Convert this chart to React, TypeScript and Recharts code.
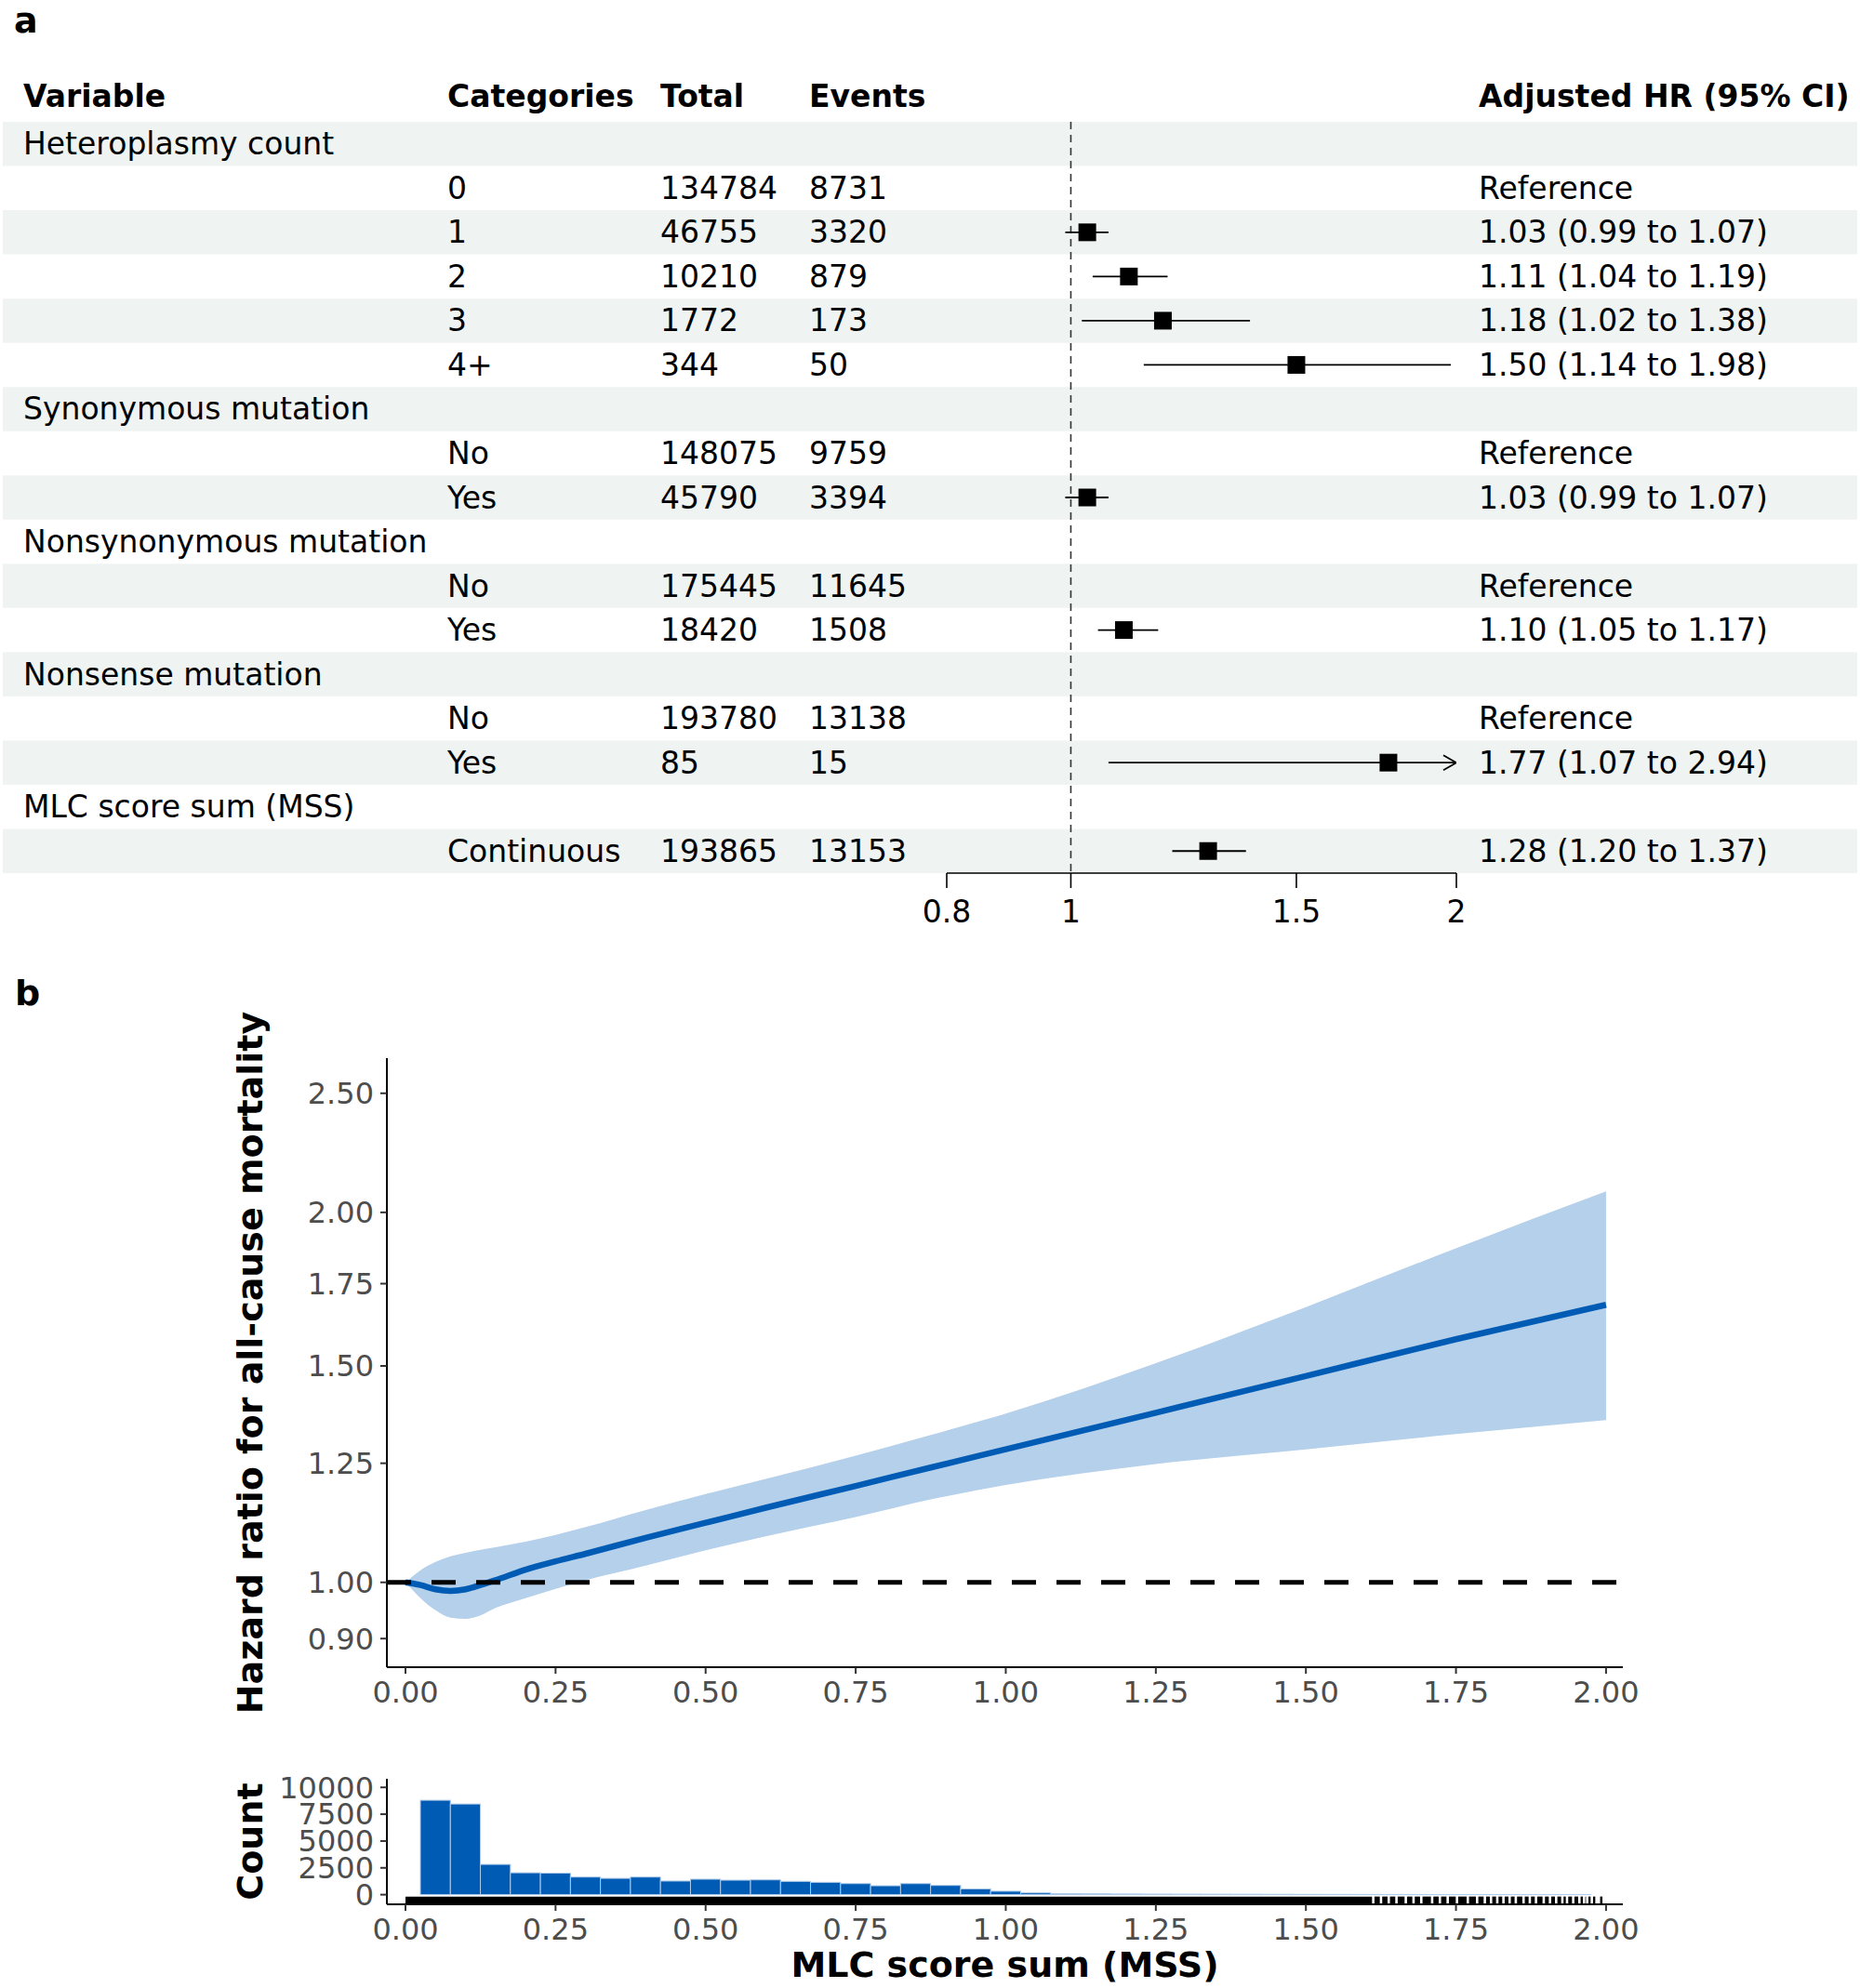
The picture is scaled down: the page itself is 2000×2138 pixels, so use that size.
import React from 'react';
import {
  ComposedChart,
  Scatter,
  Bar,
  Line,
  Area,
  XAxis,
  YAxis,
  ReferenceArea,
  ReferenceLine,
} from 'recharts';

const FONT = '"DejaVu Sans", sans-serif';

// ---------- panel a: forest table ----------
const variables = [
  'Heteroplasmy count',
  'Synonymous mutation',
  'Nonsynonymous mutation',
  'Nonsense mutation',
  'MLC score sum (MSS)',
];
const categories = ['0', '1', '2', '3', '4+', 'No', 'Yes', 'No', 'Yes', 'No', 'Yes', 'Continuous'];
const categoryGroup = [0, 0, 0, 0, 0, 1, 1, 2, 2, 3, 3, 4];
const totals = [134784, 46755, 10210, 1772, 344, 148075, 45790, 175445, 18420, 193780, 85, 193865];
const events = [8731, 3320, 879, 173, 50, 9759, 3394, 11645, 1508, 13138, 15, 13153];
const hrEst = [null, 1.03, 1.11, 1.18, 1.5, null, 1.03, null, 1.1, null, 1.77, 1.28];
const hrLow = [null, 0.99, 1.04, 1.02, 1.14, null, 0.99, null, 1.05, null, 1.07, 1.2];
const hrHigh = [null, 1.07, 1.19, 1.38, 1.98, null, 1.07, null, 1.17, null, 2.94, 1.37];
const headers = ['Variable', 'Categories', 'Total', 'Events', 'Adjusted HR (95% CI)'];
const forestTicks = [0.8, 1, 1.5, 2];

// ---------- panel b: spline curve ----------
const mssX = [0, 0.025, 0.05, 0.075, 0.1, 0.125, 0.15, 0.2, 0.25, 0.3, 0.4, 0.5, 0.6, 0.75, 0.875, 1.0, 1.25, 1.5, 1.75, 2.0];
const hrCurve = [1.0, 0.995, 0.987, 0.984, 0.987, 0.995, 1.004, 1.024, 1.04, 1.055, 1.087, 1.118, 1.15, 1.198, 1.24, 1.283, 1.374, 1.472, 1.577, 1.682];
const hrUpper = [1.0, 1.023, 1.039, 1.05, 1.057, 1.063, 1.068, 1.079, 1.093, 1.109, 1.145, 1.18, 1.214, 1.268, 1.318, 1.372, 1.508, 1.675, 1.87, 2.08];
const hrLower = [1.0, 0.971, 0.949, 0.936, 0.934, 0.94, 0.953, 0.971, 0.988, 1.004, 1.032, 1.062, 1.09, 1.13, 1.168, 1.2, 1.248, 1.283, 1.32, 1.355];
const hrTicks = [0.9, 1, 1.25, 1.5, 1.75, 2, 2.5];
const mssTicks = [0, 0.25, 0.5, 0.75, 1, 1.25, 1.5, 1.75, 2];

// ---------- panel b: histogram + rug ----------
const binCenters = [
  0.05, 0.1, 0.15, 0.2, 0.25, 0.3, 0.35, 0.4, 0.45, 0.5, 0.55, 0.6, 0.65, 0.7, 0.75, 0.8, 0.85, 0.9, 0.95, 1.0,
  1.05, 1.1, 1.15, 1.2, 1.25, 1.3, 1.35, 1.4, 1.45, 1.5, 1.55, 1.6, 1.65, 1.7, 1.75, 1.8, 1.85, 1.9, 1.95,
];
const binCounts = [
  8800, 8450, 2820, 2040, 2010, 1640, 1520, 1640, 1270, 1440, 1350, 1380, 1240, 1150, 1030, 830, 1030, 860, 540, 320,
  165, 95, 75, 60, 55, 50, 45, 40, 35, 30, 25, 22, 18, 15, 12, 10, 8, 6, 5,
];
const countTicks = [0, 2500, 5000, 7500, 10000];
// rug: solid from 0, with empty gaps (no observations) beyond ~1.61, last observation near 1.994
const rugGaps = [
  1.6122, 1.6251, 1.638, 1.6509, 1.6664, 1.6793, 1.6922, 1.7103, 1.7232, 1.7362, 1.7517, 1.7697, 1.7852, 1.7981,
  1.8084, 1.8188, 1.8291, 1.8394, 1.8497, 1.8626, 1.873, 1.8833, 1.8962, 1.9066, 1.9169, 1.9272, 1.935, 1.9453,
  1.9556, 1.9634, 1.9686, 1.9763, 1.9841, 1.9881,
];
const rugStart = 0;
const rugEnd = 1.994;

// layout
const COL_X = [25, 481, 710, 870, 1590];
const ROW_DOMAIN: [number, number] = [-1.5, 16.5];
const HEADER_ROW = -1.07;
const X_DOMAIN: [number, number] = [-0.031, 2.028];
const PLOT_LEFT = 416;
const PLOT_RIGHT = 1745;
const TITLE_X = 269;
const PX_PER_UNIT = (PLOT_RIGHT - PLOT_LEFT) / (X_DOMAIN[1] - X_DOMAIN[0]);
const BAR_PX = 0.05 * PX_PER_UNIT;
const GAP_HALF = 1.3 / PX_PER_UNIT;
const BLUE = '#005bb5';

type Row = {
  row: number;
  cells: string[];
  est?: number | null;
  lo?: number | null;
  hi?: number | null;
};

const fmt = (v: number) => v.toFixed(2);

const tableRows: Row[] = [];
{
  let r = 0;
  variables.forEach((v, g) => {
    tableRows.push({ row: r++, cells: [v, '', '', '', ''] });
    categories.forEach((c, i) => {
      if (categoryGroup[i] !== g) return;
      const est = hrEst[i];
      const label = est == null ? 'Reference' : `${fmt(est)} (${fmt(hrLow[i]!)} to ${fmt(hrHigh[i]!)})`;
      tableRows.push({
        row: r++,
        cells: ['', c, String(totals[i]), String(events[i]), label],
        est,
        lo: hrLow[i],
        hi: hrHigh[i],
      });
    });
  });
}

const cellPoints = tableRows.flatMap((t) =>
  t.cells.map((text, c) => ({ x: COL_X[c], y: t.row, text })).filter((p) => p.text !== '')
);
const headerPoints = headers.map((text, c) => ({ x: COL_X[c], y: HEADER_ROW, text }));
const hrRows = tableRows.filter((t) => t.est != null);
const forestMax = forestTicks[forestTicks.length - 1];

const rugRuns = [rugStart, ...rugGaps].map((g, i) => {
  const from = i === 0 ? g : g + GAP_HALF;
  const to = i < rugGaps.length ? rugGaps[i] - GAP_HALF : rugEnd;
  return [from, to];
});

const textShape = (weight: number) => (p: any) => (
  <text
    x={p.cx}
    y={p.cy}
    dominantBaseline="central"
    fontSize={33}
    fontFamily={FONT}
    fontWeight={weight}
    fill="#000"
  >
    {p.payload.text}
  </text>
);

const squareShape = (p: any) => <rect x={p.cx - 9.5} y={p.cy - 9.5} width={19} height={19} fill="#000" />;
const emptyShape = () => <g />;
const arrowShape = (p: any) => (
  <path
    d={`M${p.cx - 14},${p.cy - 8} L${p.cx},${p.cy} L${p.cx - 14},${p.cy + 8}`}
    fill="none"
    stroke="#000"
    strokeWidth={1.8}
  />
);
// bars on a numeric axis come back as hairlines: widen each to its bin width around its centre
const binShape = (p: any) => (
  <rect
    x={p.x + p.width / 2 - BAR_PX / 2}
    y={p.y}
    width={BAR_PX}
    height={Math.max(p.height, 0)}
    fill={BLUE}
    stroke="#b0cbe8"
    strokeWidth={1}
  />
);

// rotated axis title, centred on the plot height
const axisTitle = (text: string) => (p: any) => {
  const cy = p.viewBox.y + p.viewBox.height / 2;
  return (
    <text
      x={TITLE_X}
      y={cy}
      transform={`rotate(-90, ${TITLE_X}, ${cy})`}
      textAnchor="middle"
      dominantBaseline="central"
      fontSize={38}
      fontWeight={700}
      fontFamily={FONT}
      fill="#000"
    >
      {text}
    </text>
  );
};

function ForestPanel() {
  return (
    <>
      <div style={{ position: 'absolute', left: 0, top: 0 }}>
        <ComposedChart width={2000} height={1010} margin={{ top: 83.5, right: 0, bottom: 71, left: 0 }}>
          <XAxis dataKey="x" type="number" domain={[0, 2000]} hide />
          <YAxis dataKey="y" type="number" domain={ROW_DOMAIN} reversed hide allowDataOverflow />
          {tableRows
            .filter((t) => t.row % 2 === 0)
            .map((t) => (
              <ReferenceArea
                key={t.row}
                x1={3}
                x2={1997}
                y1={t.row - 0.5}
                y2={t.row + 0.5}
                fill="#eff3f2"
                fillOpacity={1}
                stroke="none"
              />
            ))}
          <Scatter data={headerPoints} shape={textShape(700)} isAnimationActive={false} />
          <Scatter data={cellPoints} shape={textShape(400)} isAnimationActive={false} />
        </ComposedChart>
      </div>
      <div style={{ position: 'absolute', left: 0, top: 0 }}>
        <ComposedChart width={2000} height={1010} margin={{ top: 83.5, right: 434, bottom: 11, left: 1018 }}>
          <XAxis
            dataKey="x"
            type="number"
            scale="log"
            domain={[forestTicks[0], forestMax]}
            ticks={forestTicks}
            interval={0}
            allowDataOverflow
            height={60}
            tickSize={16}
            tickMargin={14}
            stroke="#000"
            strokeWidth={1.6}
            tick={{ fill: '#000', fontSize: 33, fontFamily: FONT }}
            tickFormatter={(v: number) => String(v)}
          />
          <YAxis dataKey="y" type="number" domain={ROW_DOMAIN} reversed hide allowDataOverflow />
          <ReferenceLine
            segment={[
              { x: 1, y: -0.5 },
              { x: 1, y: 16.5 },
            ]}
            stroke="#333"
            strokeWidth={1.6}
            strokeDasharray="8 6"
          />
          {hrRows.map((t) => (
            <Scatter
              key={`ci-${t.row}`}
              data={[
                { x: t.lo, y: t.row },
                { x: t.hi, y: t.row },
              ]}
              line={{ stroke: '#000', strokeWidth: 1.8 }}
              shape={emptyShape}
              isAnimationActive={false}
            />
          ))}
          <Scatter
            data={hrRows.filter((t) => (t.hi as number) > forestMax).map((t) => ({ x: forestMax, y: t.row }))}
            shape={arrowShape}
            isAnimationActive={false}
          />
          <Scatter
            data={hrRows.map((t) => ({ x: t.est, y: t.row }))}
            shape={squareShape}
            isAnimationActive={false}
          />
        </ComposedChart>
      </div>
    </>
  );
}

const curveData = mssX.map((x, i) => ({ x, hr: hrCurve[i], band: [hrLower[i], hrUpper[i]] }));
const histData = binCenters.map((x, i) => ({ x, y: binCounts[i] }));

const axisTick = { fill: '#4d4d4d', fontSize: 32, fontFamily: FONT };
const tickLine = { stroke: '#333', strokeWidth: 2 };

function SplinePanel() {
  return (
    <div style={{ position: 'absolute', left: 0, top: 1060 }}>
      <ComposedChart
        width={1800}
        height={820}
        data={curveData}
        margin={{ top: 78, right: 1800 - PLOT_RIGHT, bottom: 37, left: PLOT_LEFT - 100 }}
      >
        <XAxis
          dataKey="x"
          type="number"
          domain={X_DOMAIN}
          ticks={mssTicks}
          interval={0}
          allowDataOverflow
          height={50}
          tickSize={7}
          tickMargin={8}
          stroke="#000"
          strokeWidth={2}
          tickLine={tickLine}
          tick={axisTick}
          tickFormatter={fmt}
        />
        <YAxis
          type="number"
          scale="log"
          domain={[0.853, 2.67]}
          ticks={hrTicks}
          interval={0}
          allowDataOverflow
          width={100}
          tickSize={7}
          tickMargin={7}
          stroke="#000"
          strokeWidth={2}
          tickLine={tickLine}
          tick={axisTick}
          tickFormatter={fmt}
          label={{ content: axisTitle('Hazard ratio for all-cause mortality') }}
        />
        <Area
          type="monotone"
          dataKey="band"
          fill="#b5d0eb"
          fillOpacity={1}
          stroke="none"
          isAnimationActive={false}
        />
        <Line
          type="monotone"
          dataKey="hr"
          stroke={BLUE}
          strokeWidth={6.5}
          dot={false}
          isAnimationActive={false}
        />
        <ReferenceLine y={1} stroke="#000" strokeWidth={5} strokeDasharray="26 22" />
      </ComposedChart>
    </div>
  );
}

function HistogramPanel() {
  return (
    <div style={{ position: 'absolute', left: 0, top: 1880 }}>
      <ComposedChart
        width={1800}
        height={258}
        data={histData}
        barCategoryGap={0}
        barGap={0}
        margin={{ top: 33, right: 1800 - PLOT_RIGHT, bottom: 45, left: PLOT_LEFT - 100 }}
      >
        <XAxis
          dataKey="x"
          type="number"
          domain={X_DOMAIN}
          ticks={mssTicks}
          interval={0}
          allowDataOverflow
          height={45}
          tickSize={7}
          tickMargin={8}
          stroke="#000"
          strokeWidth={2}
          tickLine={tickLine}
          tick={axisTick}
          tickFormatter={fmt}
        />
        <YAxis
          dataKey="y"
          type="number"
          domain={[-900, 10800]}
          ticks={countTicks}
          interval={0}
          allowDataOverflow
          width={100}
          tickSize={7}
          tickMargin={7}
          stroke="#000"
          strokeWidth={2}
          tickLine={tickLine}
          tick={axisTick}
          label={{ content: axisTitle('Count') }}
        />
        <Bar dataKey="y" fill={BLUE} shape={binShape} isAnimationActive={false} />
        {rugRuns.map(([from, to], i) => (
          <ReferenceArea
            key={`rug-${i}`}
            x1={from}
            x2={to}
            y1={-900}
            y2={-175}
            fill="#000"
            fillOpacity={1}
            stroke="none"
          />
        ))}
      </ComposedChart>
    </div>
  );
}

const title: React.CSSProperties = {
  position: 'absolute',
  fontFamily: FONT,
  fontWeight: 700,
  whiteSpace: 'nowrap',
  color: '#000',
  lineHeight: 'normal',
};

export default function App() {
  return (
    <div style={{ position: 'absolute', left: 0, top: 0, width: 2000, height: 2138, background: '#fff', overflow: 'hidden' }}>
      <div style={{ ...title, left: 15, top: 0, fontSize: 38 }}>a</div>
      <div style={{ ...title, left: 16, top: 1046, fontSize: 38 }}>b</div>
      <ForestPanel />
      <SplinePanel />
      <HistogramPanel />
      <div style={{ ...title, left: (PLOT_LEFT + PLOT_RIGHT) / 2, top: 2113, fontSize: 38, transform: 'translate(-50%, -50%)' }}>
        MLC score sum (MSS)
      </div>
    </div>
  );
}
